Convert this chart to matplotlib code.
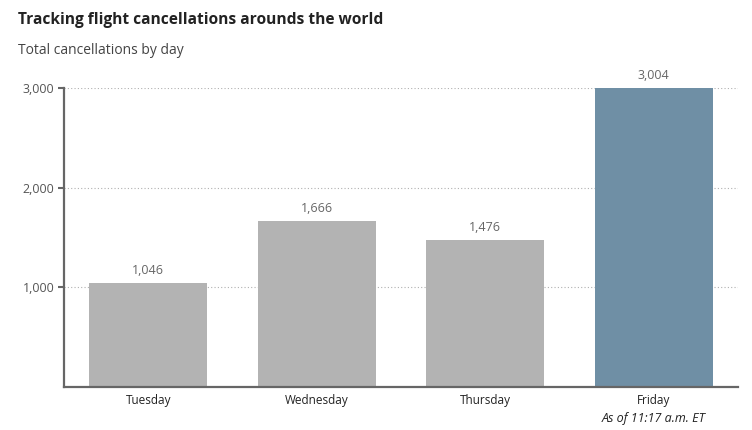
import matplotlib.pyplot as plt

days = ['Tuesday', 'Wednesday', 'Thursday', 'Friday']
cancellations = [1046, 1666, 1476, 3004]
bar_colors = ['#b3b3b3', '#b3b3b3', '#b3b3b3', '#6f8fa5']
yticks = [1000, 2000, 3000]

plt.rcParams['font.family'] = ['Open Sans', 'DejaVu Sans']

fig = plt.figure(figsize=(7.52, 4.3), dpi=100)
ax = fig.add_axes([64 / 752, 43 / 430, (738 - 64) / 752, (387 - 88) / 430])

x = range(len(days))
ax.bar(x, cancellations, width=0.7, color=bar_colors, zorder=2, clip_on=False)
for i, v in zip(x, cancellations):
    ax.text(i, v + 55, f'{v:,}', ha='center', va='bottom', fontsize=9, color='#666666')

ax.set_xlim(-0.5, 3.5)
ax.set_ylim(0, 3000)
ax.set_yticks(yticks)
ax.set_yticklabels([f'{t:,}' for t in yticks], fontsize=9, color='#555555')
ax.grid(axis='y', linestyle=(0, (1, 2)), color='#b0b0b0', linewidth=0.8, zorder=1)

ax.set_xticks(list(x))
ax.set_xticklabels(days, fontsize=8.5, color='#222222')
ax.tick_params(axis='x', length=0, pad=5)
ax.tick_params(axis='y', length=4, width=1.5, color='#666666', pad=3)

for s in ['top', 'right']:
    ax.spines[s].set_visible(False)
ax.spines['left'].set_color('#666666')
ax.spines['left'].set_linewidth(1.6)
ax.spines['bottom'].set_color('#666666')
ax.spines['bottom'].set_linewidth(1.6)

ax.text(3, -0.083, 'As of 11:17 a.m. ET', transform=ax.get_xaxis_transform(),
        ha='center', va='top', fontsize=9, style='italic', color='#222222')

fig.text(18 / 752, 1 - 20 / 430, 'Tracking flight cancellations arounds the world',
         fontsize=11.2, fontweight='bold', color='#222222', va='center')
fig.text(18 / 752, 1 - 50 / 430, 'Total cancellations by day',
         fontsize=10, color='#444444', va='center')

fig.savefig('out.png', dpi=100)
